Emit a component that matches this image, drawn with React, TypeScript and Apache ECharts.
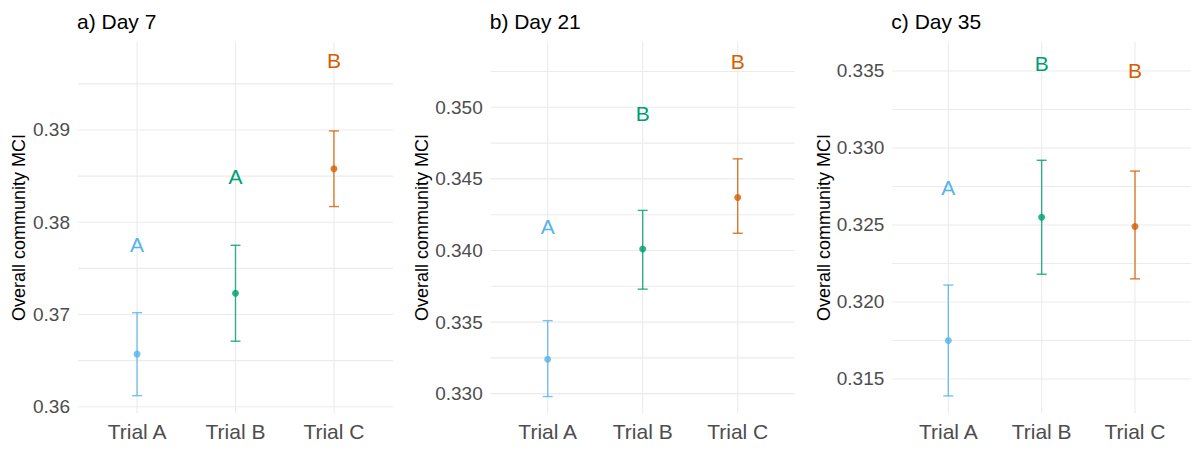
import React, { useEffect, useRef } from "react";
import * as echarts from "echarts";

// Treatment groups and their colours
const categories = ["Trial A", "Trial B", "Trial C"];
const groupColors = ["#56B4E9", "#009E73", "#D55E00"];
const panelTitles = ["a) Day 7", "b) Day 21", "c) Day 35"];

// Day 7: estimated means, 95% CI bounds, significance letters
const day7Mean = [0.3657, 0.3723, 0.3858];
const day7Lower = [0.3612, 0.3671, 0.3817];
const day7Upper = [0.3702, 0.3775, 0.3899];
const day7Letters = ["A", "A", "B"];
const day7LetterY = [0.3776, 0.385, 0.3975];
const day7Range = [0.35932, 0.39954];
const day7Ticks = [0.36, 0.37, 0.38, 0.39];
const day7Minor = [0.365, 0.375, 0.385, 0.395];

// Day 21
const day21Mean = [0.3324, 0.3401, 0.3437];
const day21Lower = [0.3298, 0.3373, 0.3412];
const day21Upper = [0.3351, 0.3428, 0.3464];
const day21Letters = ["A", "B", "B"];
const day21LetterY = [0.3417, 0.3496, 0.3532];
const day21Range = [0.32865, 0.35456];
const day21Ticks = [0.33, 0.335, 0.34, 0.345, 0.35];
const day21Minor = [0.3325, 0.3375, 0.3425, 0.3475, 0.3525];

// Day 35
const day35Mean = [0.3175, 0.3255, 0.3249];
const day35Lower = [0.3139, 0.3218, 0.3215];
const day35Upper = [0.3211, 0.3292, 0.3285];
const day35Letters = ["A", "B", "B"];
const day35LetterY = [0.3274, 0.3355, 0.335];
const day35Range = [0.31279, 0.33688];
const day35Ticks = [0.315, 0.32, 0.325, 0.33, 0.335];
const day35Minor = [0.3175, 0.3225, 0.3275, 0.3325];

const FONT = 'Arial, "Liberation Sans", Helvetica, sans-serif';
const GRID_COLOR = "#EBEBEB";

type Panel = {
  title: string;
  mean: number[];
  lower: number[];
  upper: number[];
  letters: string[];
  letterY: number[];
  range: number[];
  ticks: number[];
  minor: number[];
  decimals: number;
  left: number;
  width: number;
};

const panels: Panel[] = [
  { title: panelTitles[0], mean: day7Mean, lower: day7Lower, upper: day7Upper, letters: day7Letters, letterY: day7LetterY, range: day7Range, ticks: day7Ticks, minor: day7Minor, decimals: 2, left: 78, width: 315 },
  { title: panelTitles[1], mean: day21Mean, lower: day21Lower, upper: day21Upper, letters: day21Letters, letterY: day21LetterY, range: day21Range, ticks: day21Ticks, minor: day21Minor, decimals: 3, left: 490.7, width: 304 },
  { title: panelTitles[2], mean: day35Mean, lower: day35Lower, upper: day35Upper, letters: day35Letters, letterY: day35LetterY, range: day35Range, ticks: day35Ticks, minor: day35Minor, decimals: 3, left: 892.3, width: 304 },
];

const GRID_TOP = 42;
const GRID_HEIGHT = 371;

function buildOption() {
  const grid: any[] = [];
  const xAxis: any[] = [];
  const yAxis: any[] = [];
  const title: any[] = [];
  const series: any[] = [];

  panels.forEach((p, i) => {
    grid.push({ left: p.left, top: GRID_TOP, width: p.width, height: GRID_HEIGHT, containLabel: false });
    title.push({
      text: p.title,
      left: p.left - 1,
      top: 11,
      padding: 0,
      textStyle: { fontFamily: FONT, fontSize: 21, fontWeight: "normal", color: "#000000" },
    });
    xAxis.push({
      type: "value",
      gridIndex: i,
      min: 0.4,
      max: 3.6,
      axisLine: { show: false },
      axisTick: { show: false },
      splitLine: { show: false },
      axisLabel: {
        customValues: [1, 2, 3],
        formatter: (v: number) => categories[Math.round(v) - 1] ?? "",
        fontFamily: FONT,
        fontSize: 21,
        color: "#4D4D4D",
        margin: 8,
      },
    });
    yAxis.push({
      type: "value",
      gridIndex: i,
      min: p.range[0],
      max: p.range[1],
      name: "Overall community MCI",
      nameLocation: "middle",
      nameGap: 50,
      nameTextStyle: { fontFamily: FONT, fontSize: 18, color: "#000000" },
      axisLine: { show: false },
      axisTick: { show: false },
      splitLine: { show: false },
      axisLabel: {
        customValues: p.ticks,
        formatter: (v: number) => v.toFixed(p.decimals),
        fontFamily: FONT,
        fontSize: 19,
        color: "#4D4D4D",
        margin: 8,
      },
    });

    // horizontal grid lines (major + minor)
    series.push({
      type: "custom",
      xAxisIndex: i,
      yAxisIndex: i,
      silent: true,
      z: 0,
      data: [...p.ticks, ...p.minor].map((v) => [1, v]),
      renderItem: (params: any, api: any) => {
        const cs = params.coordSys;
        const pt = api.coord([1, api.value(1)]);
        return {
          type: "line",
          shape: { x1: cs.x, y1: pt[1], x2: cs.x + cs.width, y2: pt[1] },
          style: { stroke: GRID_COLOR, lineWidth: 1.1 },
        };
      },
    });
    // vertical grid lines at each group
    series.push({
      type: "custom",
      xAxisIndex: i,
      yAxisIndex: i,
      silent: true,
      z: 0,
      data: categories.map((_, k) => [k + 1, p.range[0]]),
      renderItem: (params: any, api: any) => {
        const cs = params.coordSys;
        const pt = api.coord([api.value(0), api.value(1)]);
        return {
          type: "line",
          shape: { x1: pt[0], y1: cs.y, x2: pt[0], y2: cs.y + cs.height },
          style: { stroke: GRID_COLOR, lineWidth: 1.1 },
        };
      },
    });
    // error bars
    series.push({
      type: "custom",
      xAxisIndex: i,
      yAxisIndex: i,
      silent: true,
      z: 2,
      data: categories.map((_, k) => [k + 1, p.lower[k], p.upper[k]]),
      renderItem: (params: any, api: any) => {
        const x = api.value(0);
        const lo = api.coord([x, api.value(1)]);
        const hi = api.coord([x, api.value(2)]);
        const color = groupColors[params.dataIndex];
        const style = { stroke: color, lineWidth: 1.4, opacity: 0.8 };
        const hw = 5;
        return {
          type: "group",
          children: [
            { type: "line", shape: { x1: lo[0], y1: lo[1], x2: hi[0], y2: hi[1] }, style },
            { type: "line", shape: { x1: lo[0] - hw, y1: lo[1], x2: lo[0] + hw, y2: lo[1] }, style },
            { type: "line", shape: { x1: hi[0] - hw, y1: hi[1], x2: hi[0] + hw, y2: hi[1] }, style },
          ],
        };
      },
    });
    // means
    series.push({
      type: "scatter",
      xAxisIndex: i,
      yAxisIndex: i,
      silent: true,
      z: 3,
      symbolSize: 7,
      data: categories.map((_, k) => ({
        value: [k + 1, p.mean[k]],
        itemStyle: { color: groupColors[k] },
      })),
    });
    // significance letters
    series.push({
      type: "custom",
      xAxisIndex: i,
      yAxisIndex: i,
      silent: true,
      z: 4,
      data: categories.map((_, k) => [k + 1, p.letterY[k]]),
      renderItem: (params: any, api: any) => {
        const pt = api.coord([api.value(0), api.value(1)]);
        return {
          type: "text",
          x: pt[0],
          y: pt[1],
          style: {
            text: p.letters[params.dataIndex],
            fill: groupColors[params.dataIndex],
            fontFamily: FONT,
            fontSize: 21,
            align: "center",
            verticalAlign: "middle",
          },
        };
      },
    });
  });

  return {
    animation: false,
    backgroundColor: "#FFFFFF",
    title,
    grid,
    xAxis,
    yAxis,
    series,
  };
}

export default function App() {
  const ref = useRef<HTMLDivElement>(null);

  useEffect(() => {
    if (!ref.current) return;
    const chart = echarts.init(ref.current, undefined, { renderer: "svg" });
    chart.setOption(buildOption());
    return () => chart.dispose();
  }, []);

  return (
    <div
      ref={ref}
      style={{ position: "absolute", left: 0, top: 0, width: 1191, height: 450, background: "#FFFFFF" }}
    />
  );
}
